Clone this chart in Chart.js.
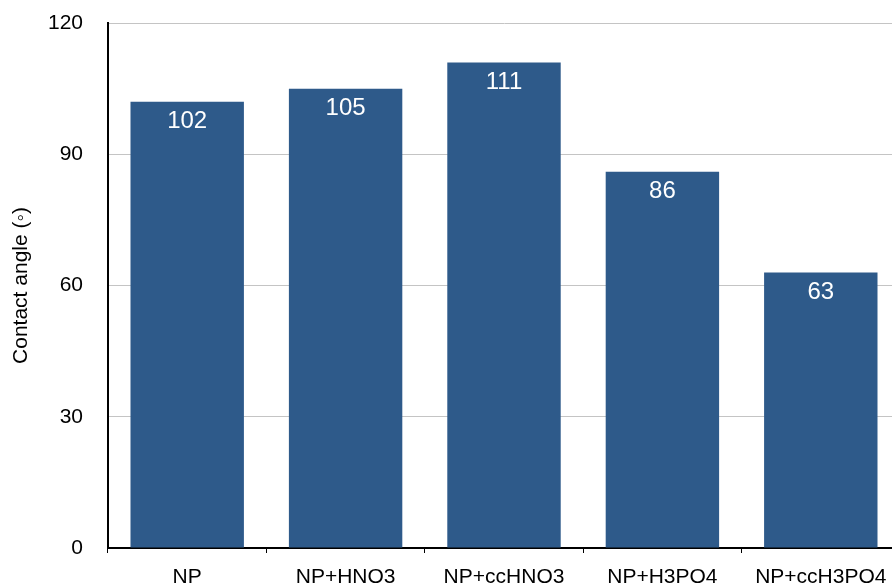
<!DOCTYPE html>
<html>
<head>
<meta charset="utf-8">
<script src="https://cdn.jsdelivr.net/npm/chart.js@4"></script>
<style>
  html, body { margin: 0; padding: 0; background: #ffffff; overflow: hidden; }
  #wrap { width: 892px; height: 583px; overflow: hidden; }
</style>
</head>
<body>
<div id="wrap"><canvas id="chart" width="900" height="583"></canvas></div>
<script>
// Contact angle per surface treatment
const categories = ['NP', 'NP+HNO3', 'NP+ccHNO3', 'NP+H3PO4', 'NP+ccH3PO4'];
const contactAngles = [102, 105, 111, 86, 63];
const yTicks = [0, 30, 60, 90, 120];

const FONT = '"Liberation Sans", Arial, Helvetica, sans-serif';
const BAR_COLOR = '#2E5A8A';

// Writes each value in white just below the top of its bar
const valueLabels = {
  id: 'valueLabels',
  afterDatasetsDraw(chart) {
    const ctx = chart.ctx;
    const meta = chart.getDatasetMeta(0);
    ctx.save();
    ctx.fillStyle = '#ffffff';
    ctx.font = '24px ' + FONT;
    ctx.textAlign = 'center';
    ctx.textBaseline = 'middle';
    meta.data.forEach((bar, i) => {
      ctx.fillText(String(contactAngles[i]), bar.x, bar.y + 20);
    });
    ctx.restore();
  }
};

new Chart(document.getElementById('chart'), {
  type: 'bar',
  data: {
    labels: categories,
    datasets: [{
      data: contactAngles,
      backgroundColor: BAR_COLOR,
      borderWidth: 0,
      categoryPercentage: 0.716,
      barPercentage: 1.0
    }]
  },
  options: {
    responsive: false,
    animation: false,
    devicePixelRatio: 1,
    layout: { padding: { top: 23, right: 0, bottom: 0, left: 0 } },
    plugins: {
      legend: { display: false },
      tooltip: { enabled: false }
    },
    scales: {
      x: {
        offset: true,
        grid: {
          offset: true,
          drawOnChartArea: false,
          drawTicks: true,
          tickLength: 5,
          color: '#000000',
          lineWidth: 1
        },
        border: { display: true, color: '#000000', width: 2 },
        ticks: {
          color: '#000000',
          font: { family: FONT, size: 21 },
          padding: 12,
          maxRotation: 0
        },
        afterFit(scale) { scale.height = 35; }
      },
      y: {
        min: 0,
        max: 120,
        afterBuildTicks(scale) { scale.ticks = yTicks.map(v => ({ value: v })); },
        grid: {
          drawTicks: false,
          color: (c) => c.tick && c.tick.value === 0 ? 'rgba(0,0,0,0)' : '#c4c4c4',
          lineWidth: 1
        },
        border: { display: true, color: '#000000', width: 2 },
        ticks: {
          color: '#000000',
          font: { family: FONT, size: 21 },
          padding: 25
        },
        title: {
          display: true,
          text: 'Contact angle (◦)',
          color: '#000000',
          font: { family: FONT, size: 21 },
          padding: { top: 9, bottom: 0 }
        },
        afterFit(scale) {
          scale.width = 108;
          // keep the label gap from pushing the plot area inward
          scale.paddingTop = 12;
          scale.paddingBottom = 12;
        }
      }
    }
  },
  plugins: [valueLabels]
});
</script>
</body>
</html>
